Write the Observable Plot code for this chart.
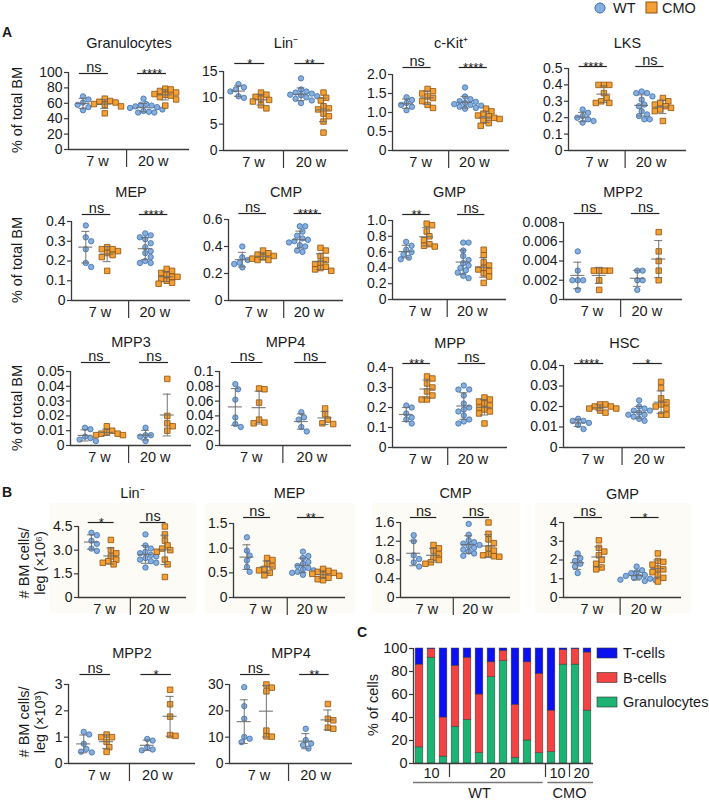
<!DOCTYPE html>
<html><head><meta charset="utf-8">
<script src="https://cdn.jsdelivr.net/npm/d3@7"></script>
<script src="https://cdn.jsdelivr.net/npm/@observablehq/plot@0.6"></script>
<style>
body{margin:0;background:#fff;font-family:"Liberation Sans",Arial,Helvetica,sans-serif;}
#fig{position:relative;width:709px;height:802px;overflow:hidden;background:#fff;}
.lab{position:absolute;font-size:14px;color:#1a1a1a;white-space:nowrap;line-height:1;}
.rot{transform:translate(-50%,-50%) rotate(-90deg);}
.bold{font-weight:bold;}
.pw{position:absolute;}
.pw svg{overflow:visible;background:transparent;}
.bg{position:absolute;background:#fcfbf5;}
</style></head><body><div id="fig"></div>
<script>
// ---------------- DATA ----------------
const groups = ["WT 7 w", "CMO 7 w", "WT 20 w", "CMO 20 w"];
const ageLabels = ["7 w", "20 w"];

// Panel A: % of total BM  (each: [WT 7w, CMO 7w, WT 20w, CMO 20w])
const aGranulocytes = [[69,65,61,58,55,51],[66,63,62,61,59,58,56,47],[66,59,58,57,56,55,54,52,50,49,48,48],[79,78,76,74,72,71,70,68,65,57]];
const aLin = [[12.6,12.0,11.6,11.2,10.3,10.0],[11.0,10.6,10.2,9.8,9.6,9.3,8.6,8.0],[13.7,11.6,11.2,11.0,10.8,10.6,10.5,10.3,10.1,9.8,9.5,9.0],[11.0,10.0,9.5,8.4,8.0,7.8,7.0,6.5,5.5,3.4]];
const aCKit = [[1.40,1.33,1.25,1.20,1.15,1.06],[1.62,1.56,1.50,1.42,1.38,1.30,1.20,1.12],[1.66,1.42,1.35,1.30,1.28,1.25,1.22,1.20,1.18,1.15,1.12,1.10],[1.10,1.03,0.97,0.92,0.90,0.86,0.83,0.78,0.72,0.65]];
const aLKS = [[0.25,0.23,0.21,0.20,0.19,0.18,0.17],[0.40,0.40,0.40,0.35,0.32,0.30,0.29,0.29],[0.36,0.35,0.35,0.33,0.31,0.28,0.27,0.24,0.22,0.21,0.19,0.19],[0.32,0.30,0.29,0.28,0.27,0.26,0.25,0.24,0.18]];
const aMEP = [[0.38,0.32,0.30,0.26,0.19,0.17],[0.27,0.26,0.26,0.25,0.24,0.23,0.22,0.15],[0.34,0.33,0.32,0.31,0.29,0.27,0.25,0.24,0.22,0.20,0.19,0.19],[0.16,0.15,0.14,0.13,0.12,0.12,0.11,0.10,0.09,0.085]];
const aCMP = [[0.40,0.32,0.30,0.28,0.27,0.245],[0.37,0.35,0.34,0.33,0.32,0.31,0.30,0.30],[0.55,0.55,0.51,0.48,0.46,0.45,0.44,0.43,0.41,0.40,0.37,0.36],[0.39,0.37,0.33,0.30,0.28,0.27,0.25,0.24,0.23,0.22]];
const aGMP = [[0.73,0.68,0.63,0.60,0.57,0.53,0.51],[0.96,0.94,0.86,0.80,0.75,0.70,0.68,0.67],[0.72,0.72,0.62,0.55,0.50,0.46,0.43,0.40,0.37,0.34,0.30,0.27],[0.63,0.56,0.47,0.43,0.40,0.38,0.36,0.33,0.29,0.21]];
const aMPP2 = [[0.005,0.003,0.002,0.002,0.002,0.001],[0.003,0.003,0.003,0.003,0.002,0.001],[0.003,0.003,0.002,0.002,0.001],[0.007,0.005,0.004,0.003,0.002]];
const aMPP3 = [[0.012,0.011,0.006,0.005,0.004,0.003],[0.013,0.010,0.009,0.008,0.008,0.007,0.007],[0.012,0.007,0.007,0.006,0.003],[0.045,0.020,0.015,0.013,0.010]];
const aMPP4 = [[0.083,0.076,0.062,0.038,0.029,0.025],[0.077,0.076,0.058,0.035,0.031,0.030],[0.045,0.038,0.035,0.025,0.019],[0.050,0.042,0.035,0.030,0.029]];
const aMPP = [[0.21,0.20,0.17,0.15,0.14,0.12],[0.355,0.345,0.32,0.30,0.28,0.26,0.24,0.24],[0.31,0.29,0.29,0.26,0.22,0.20,0.19,0.18,0.16,0.14,0.13,0.12],[0.25,0.24,0.23,0.22,0.21,0.20,0.19,0.18,0.17,0.12]];
const aHSC = [[0.014,0.013,0.013,0.012,0.011,0.009],[0.021,0.021,0.020,0.020,0.019,0.019,0.018,0.017],[0.023,0.020,0.019,0.018,0.018,0.017,0.016,0.016,0.015,0.014,0.013],[0.032,0.029,0.024,0.022,0.021,0.020,0.019,0.016,0.016]];

// Panel B: # BM cells / leg
const bLin = [[4.1,3.95,3.6,3.4,3.1,2.95],[3.65,3.0,2.8,2.6,2.4,2.3,2.2,2.1],[4.0,3.3,3.1,2.9,2.8,2.7,2.6,2.5,2.4,2.3,2.2,1.9],[4.5,4.0,3.6,3.3,3.1,3.0,2.9,2.4,2.1,1.3]];
const bMEP = [[1.22,0.95,0.85,0.75,0.62,0.52],[0.80,0.76,0.68,0.63,0.58,0.55,0.50,0.45],[0.93,0.84,0.80,0.72,0.68,0.64,0.60,0.57,0.55,0.52,0.50,0.46],[0.58,0.54,0.52,0.50,0.48,0.46,0.44,0.40,0.37,0.35]];
const bCMP = [[1.33,1.20,0.90,0.82,0.75,0.66],[1.12,1.05,1.00,0.92,0.85,0.80,0.75,0.72],[1.57,1.34,1.22,1.18,1.15,1.12,1.10,1.06,1.02,0.98,0.94,0.89],[1.60,1.36,1.24,1.16,1.05,1.00,0.92,0.90,0.88,0.87]];
const bGMP = [[2.35,2.10,1.95,1.80,1.65,1.30],[3.05,2.65,2.45,2.25,2.0,1.8,1.6,1.5],[1.65,1.45,1.35,1.30,1.20,1.15,1.10,1.05,1.00,0.95,0.92,0.88],[2.35,1.95,1.90,1.75,1.55,1.50,1.35,1.20,1.05,0.85]];
const bMPP2 = [[1.2,1.1,0.75,0.55,0.45,0.42],[1.1,1.0,1.0,0.82,0.62,0.44],[0.93,0.87,0.62,0.53,0.50],[2.8,2.25,1.78,1.08,1.05]];
const bMPP4 = [[29.0,21.8,17.0,10.1,9.4,8.1],[30.0,28.8,27.4,12.5,10.3,10.2],[13.2,8.9,7.6,7.0,5.7],[22.6,17.0,16.4,13.6,13.2]];

const titlesA = ["Granulocytes","Lin\u207B","c-Kit\u207A","LKS","MEP","CMP","GMP","MPP2","MPP3","MPP4","MPP","HSC"];
const titlesB = ["Lin\u207B","MEP","CMP","GMP","MPP2","MPP4"];
const sigA = [["ns","****"],["*","**"],["ns","****"],["****","ns"],["ns","****"],["ns","****"],["**","ns"],["ns","ns"],["ns","ns"],["ns","ns"],["***","ns"],["****","*"]];
const sigB = [["*","ns"],["ns","**"],["ns","ns"],["ns","*"],["ns","*"],["ns","**"]];

const ticksA = [[0,20,40,60,80,100],[0,5,10,15],[0,0.5,1,1.5,2],[0,0.1,0.2,0.3,0.4,0.5],[0,0.1,0.2,0.3,0.4],[0,0.2,0.4,0.6],[0,0.2,0.4,0.6,0.8,1],[0,0.002,0.004,0.006,0.008],[0,0.01,0.02,0.03,0.04,0.05],[0,0.02,0.04,0.06,0.08,0.1],[0,0.1,0.2,0.3,0.4],[0,0.01,0.02,0.03,0.04]];
const tickLabelsA = [["0","20","40","60","80","100"],["0","5","10","15"],["0","0.5","1.0","1.5","2.0"],["0","0.1","0.2","0.3","0.4","0.5"],["0","0.1","0.2","0.3","0.4"],["0","0.2","0.4","0.6"],["0","0.2","0.4","0.6","0.8","1.0"],["0","0.002","0.004","0.006","0.008"],["0","0.01","0.02","0.03","0.04","0.05"],["0","0.02","0.04","0.06","0.08","0.1"],["0","0.1","0.2","0.3","0.4"],["0","0.01","0.02","0.03","0.04"]];
const ticksB = [[0,1.5,3,4.5],[0,0.5,1,1.5],[0,0.4,0.8,1.2,1.6],[0,1,2,3,4],[0,1,2,3],[0,10,20,30]];
const tickLabelsB = [["0","1.5","3.0","4.5"],["0","0.5","1.0","1.5"],["0","0.4","0.8","1.2","1.6"],["0","1","2","3","4"],["0","1","2","3"],["0","10","20","30"]];

// Panel C: % of cells (per mouse)
const cGranulocytes = [14, 92, 6, 32, 38, 9, 75, 89, 5, 20, 9, 10, 86, 86, 46];
const cBcells =       [72, 7.5, 34, 53, 54, 51, 13, 9, 46, 68, 69, 36, 12.5, 13.5, 50.5];
const cTcells =       [14, 0.5, 60, 15, 8, 40, 12, 2, 49, 12, 22, 54, 1.5, 0.5, 3.5];
const cAgeLabels = ["10","20","10","20"];
const cAgeCounts = [3, 8, 2, 2];
const cGenotypes = ["WT","CMO"];
const cGenotypeCounts = [11, 4];
const cTypes = ["Granulocytes","B-cells","T-cells"];
const cTicks = [0,20,40,60,80,100];

// ---------------- STYLE / LAYOUT ----------------
const FONT = '"Liberation Sans", Arial, Helvetica, sans-serif';
const AX = "#3a3a3a", EB = "#6b6b6b";
const WT_FILL = "#86afe0", WT_STROKE = "#3d6eaa", CMO_FILL = "#f5a035", CMO_STROKE = "#8c5210";
const C_COLORS = {"Granulocytes":"#1db373","B-cells":"#f24343","T-cells":"#0b10ee"};
const GX = [0.12, 0.30, 0.62, 0.80], DIV = 0.48, XL = [0.24, 0.70], SIGX = [[0.09,0.33],[0.57,0.81]];

const layoutA = [
 {x0:68,w:121,yt:72,yb:149,ty:43,sy:73},
 {x0:223,w:125,yt:71,yb:150,ty:43,sy:63},
 {x0:392,w:117,yt:74,yb:150,ty:43,sy:67},
 {x0:568,w:118,yt:68,yb:150,ty:43,sy:66},
 {x0:71,w:119,yt:221,yb:300,ty:192,sy:214},
 {x0:228,w:115,yt:219,yb:300,ty:192,sy:213},
 {x0:392,w:114,yt:220,yb:299,ty:192,sy:214},
 {x0:563,w:119,yt:222,yb:299,ty:192,sy:213},
 {x0:70,w:121,yt:371,yb:445,ty:342,sy:362},
 {x0:219,w:132,yt:371,yb:445,ty:342,sy:362},
 {x0:392,w:115,yt:367,yb:447,ty:343,sy:363},
 {x0:563,w:122,yt:365,yb:447,ty:343,sy:363}
];
const layoutB = [
 {x0:78,w:108,yt:526,yb:597,ty:493,sy:522},
 {x0:233,w:112,yt:523,yb:597,ty:493,sy:517},
 {x0:400,w:110,yt:522,yb:597,ty:493,sy:517},
 {x0:563,w:118,yt:522,yb:597,ty:494,sy:517},
 {x0:68,w:127,yt:684,yb:763,ty:653,sy:674},
 {x0:229,w:123,yt:684,yb:763,ty:653,sy:674}
];

const fig = document.getElementById("fig");
function addLabel(text, x, y, cls="", extra="") {
  const d = document.createElement("div");
  d.className = "lab " + cls;
  d.style.cssText = `left:${x}px;top:${y}px;` + extra;
  d.textContent = text;
  fig.appendChild(d);
  return d;
}
function place(svg, left, top) {
  const w = document.createElement("div");
  w.className = "pw";
  w.style.left = left + "px"; w.style.top = top + "px";
  w.appendChild(svg);
  fig.appendChild(w);
}

// Panel B backgrounds
layoutB.slice(0,4).forEach(L => {
  const d = document.createElement("div");
  d.className = "bg";
  d.style.cssText = `left:${L.x0-28}px;top:503px;width:${L.w+38}px;height:110px;`;
  fig.appendChild(d);
});

// deterministic horizontal spreading of overlapping points (beeswarm-like)
function spread(vals, W, H, ymax) {
  const D = 5.4, step = 2.7;
  const idx = d3.range(vals.length).sort((a,b) => d3.descending(vals[a], vals[b]));
  const placed = [], off = new Array(vals.length);
  for (const i of idx) {
    const py = H * (1 - vals[i]/ymax);
    for (let k = 0; k < 60; k++) {
      const o = k === 0 ? 0 : (k % 2 ? 1 : -1) * Math.ceil(k/2) * step;
      if (placed.every(q => (q.o-o)**2 + (q.py-py)**2 >= D*D)) { placed.push({o, py}); off[i] = o; break; }
    }
  }
  return off.map(o => o / W);
}

function dotPanel(title, data, sig, ticks, labels, L) {
  const W = L.w, H = L.yb - L.yt;
  const ymax = ticks[ticks.length-1];
  const k = ymax / H;
  const mL = 50, mR = 12, mT = 40, mB = 30;
  const pts = [], stats = [];
  data.forEach((vals, g) => {
    const off = spread(vals, W, H, ymax);
    vals.forEach((v, i) => pts.push({g, v, x: GX[g] + off[i]}));
    const m = d3.mean(vals), s = d3.deviation(vals);
    stats.push({x: GX[g], m, lo: m - s, hi: m + s});
  });
  const hw = 7 / W, cw = 4 / W;
  const caps = stats.flatMap(d => [{x: d.x, y: d.lo}, {x: d.x, y: d.hi}]);
  const sigY = ymax + (L.yt - L.sy) * k;
  const sigs = sig.map((s, j) => ({label: s, x1: SIGX[j][0], x2: SIGX[j][1], xm: (SIGX[j][0]+SIGX[j][1])/2}));
  const labMap = new Map(ticks.map((t, i) => [t, labels[i]]));
  const chart = Plot.plot({
    width: W + mL + mR, height: H + mT + mB,
    marginLeft: mL, marginRight: mR, marginTop: mT, marginBottom: mB,
    x: {domain: [0, 1], axis: null},
    y: {domain: [0, ymax], axis: null},
    style: {background: "transparent", overflow: "visible", fontFamily: FONT, fontSize: "14px", color: "#1a1a1a"},
    marks: [
      Plot.axisY({ticks, tickFormat: d => labMap.get(d), tickSize: 4, tickPadding: 2, fontSize: 14, stroke: AX, strokeWidth: 1.2}),
      Plot.ruleX([0], {y1: 0, y2: ymax, stroke: AX, strokeWidth: 1.3}),
      Plot.ruleY([0], {x1: 0, x2: 1, stroke: AX, strokeWidth: 1.3}),
      Plot.ruleX([DIV], {y1: 0, y2: -18 * k, stroke: AX, strokeWidth: 1.2}),
      Plot.text(ageLabels, {x: XL, frameAnchor: "bottom", lineAnchor: "middle", dy: 12, fontSize: 14.5, fill: "#1a1a1a"}),
      Plot.text([title], {frameAnchor: "top", lineAnchor: "middle", dy: -(L.yt - L.ty), fontSize: 14.5, fill: "#1a1a1a"}),
      Plot.ruleY(sigs, {y: sigY, x1: "x1", x2: "x2", stroke: "#222", strokeWidth: 1.2}),
      Plot.text(sigs.filter(d => d.label === "ns"), {x: "xm", y: sigY, text: "label", lineAnchor: "bottom", dy: -2, fontSize: 14.5, fill: "#1a1a1a"}),
      Plot.text(sigs.filter(d => d.label !== "ns"), {x: "xm", y: sigY, text: "label", lineAnchor: "bottom", dy: 4, fontSize: 13, fill: "#1a1a1a"}),
      Plot.dot(pts.filter(d => d.g % 2 === 0), {x: "x", y: "v", r: 2.7, symbol: "circle", fill: WT_FILL, stroke: WT_STROKE, strokeWidth: 0.8}),
      Plot.dot(pts.filter(d => d.g % 2 === 1), {x: "x", y: "v", r: 3.1, symbol: "square", fill: CMO_FILL, stroke: CMO_STROKE, strokeWidth: 0.8}),
      Plot.ruleX(stats, {x: "x", y1: "lo", y2: "hi", stroke: EB, strokeWidth: 1.1, strokeOpacity: 0.85}),
      Plot.ruleY(stats, {y: "m", x1: d => d.x - hw, x2: d => d.x + hw, stroke: EB, strokeWidth: 1.2, strokeOpacity: 0.85}),
      Plot.ruleY(caps, {y: "y", x1: d => d.x - cw, x2: d => d.x + cw, stroke: EB, strokeWidth: 1.1, strokeOpacity: 0.85})
    ]
  });
  place(chart, L.x0 - mL, L.yt - mT);
}

const dataA = [aGranulocytes, aLin, aCKit, aLKS, aMEP, aCMP, aGMP, aMPP2, aMPP3, aMPP4, aMPP, aHSC];
dataA.forEach((d, i) => dotPanel(titlesA[i], d, sigA[i], ticksA[i], tickLabelsA[i], layoutA[i]));
const dataB = [bLin, bMEP, bCMP, bGMP, bMPP2, bMPP4];
dataB.forEach((d, i) => dotPanel(titlesB[i], d, sigB[i], ticksB[i], tickLabelsB[i], layoutB[i]));

// Panel C stacked bars
(function () {
  const L = {x0: 413, w: 180, yt: 648, yb: 763};
  const W = L.w, H = L.yb - L.yt, n = cGranulocytes.length, k = 100 / H;
  const mL = 45, mR = 10, mT = 10, mB = 40;
  const rects = [];
  for (let i = 0; i < n; i++) {
    let base = 0;
    [cGranulocytes[i], cBcells[i], cTcells[i]].forEach((v, j) => {
      rects.push({x1: i + 0.18, x2: i + 0.82, y1: base, y2: base + v, type: cTypes[j]});
      base += v;
    });
  }
  const ages = []; let s = 0;
  cAgeCounts.forEach((c, j) => { ages.push({label: cAgeLabels[j], a: s, b: s + c}); s += c; });
  const genos = []; s = 0;
  cGenotypeCounts.forEach((c, j) => { genos.push({label: cGenotypes[j], a: s, b: s + c, first: j === 0, last: j === cGenotypeCounts.length - 1}); s += c; });
  const chart = Plot.plot({
    width: W + mL + mR, height: H + mT + mB,
    marginLeft: mL, marginRight: mR, marginTop: mT, marginBottom: mB,
    x: {domain: [0, n], axis: null},
    y: {domain: [0, 100], axis: null},
    style: {background: "transparent", overflow: "visible", fontFamily: FONT, fontSize: "14px", color: "#1a1a1a"},
    marks: [
      Plot.rect(rects, {x1: "x1", x2: "x2", y1: "y1", y2: "y2", fill: d => C_COLORS[d.type], stroke: "#3a3a3a", strokeWidth: 0.5}),
      Plot.axisY({ticks: cTicks, tickSize: 4, tickPadding: 2, fontSize: 14.5, stroke: AX, strokeWidth: 1.2}),
      Plot.ruleX([0], {y1: 0, y2: 100, stroke: AX, strokeWidth: 1.3}),
      Plot.ruleY([0], {x1: 0, x2: n, stroke: AX, strokeWidth: 1.3}),
      Plot.ruleX(ages.slice(1), {x: "a", y1: 0, y2: -14 * k, stroke: AX, strokeWidth: 1.2}),
      Plot.text(ages, {x: d => (d.a + d.b) / 2, text: "label", frameAnchor: "bottom", lineAnchor: "middle", dy: 10, fontSize: 14.5, fill: "#1a1a1a"}),
      Plot.ruleY(genos, {y: 0, dy: 19, x1: d => d.a + (d.first ? 0 : 0.2), x2: d => d.b - (d.last ? 0 : 0.2), stroke: "#777", strokeWidth: 1.3}),
      Plot.text(genos, {x: d => (d.a + d.b) / 2, text: "label", frameAnchor: "bottom", lineAnchor: "middle", dy: 30, fontSize: 14.5, fill: "#1a1a1a"})
    ]
  });
  place(chart, L.x0 - mL, L.yt - mT);
})();

// Panel letters, axis titles, legends
addLabel("A", 2, 25, "bold", "font-size:14px;");
addLabel("B", 2, 485, "bold", "font-size:14px;");
addLabel("C", 357, 625, "bold", "font-size:14px;");
[110, 260, 408].forEach(y => addLabel("% of total BM", 17, y, "rot", "font-size:14.5px;"));
[[563, "leg (\u00D710\u2076)"], [722, "leg (\u00D710\u00B3)"]].forEach(([y, t]) => {
  addLabel("# BM cells/", 24, y, "rot", "font-size:14.5px;");
  addLabel(t, 40, y, "rot", "font-size:14.5px;");
});
addLabel("% of cells", 373, 705, "rot", "font-size:14.5px;");

// Top legend (WT / CMO)
(function () {
  const d = document.createElement("div");
  d.style.cssText = "position:absolute;left:593px;top:0px;width:116px;height:18px;";
  d.innerHTML = `<svg width="116" height="18" style="overflow:visible">
    <circle cx="7" cy="8" r="5" fill="${WT_FILL}" stroke="${WT_STROKE}" stroke-width="1"/>
    <text x="20" y="13" font-size="14.5" font-family='${FONT}' fill="#1a1a1a">WT</text>
    <rect x="53" y="2" width="11" height="11" fill="${CMO_FILL}" stroke="${CMO_STROKE}" stroke-width="1"/>
    <text x="69" y="13" font-size="14.5" font-family='${FONT}' fill="#1a1a1a">CMO</text></svg>`;
  fig.appendChild(d);
})();

// Panel C legend
(function () {
  const items = [...cTypes].reverse();
  const d = document.createElement("div");
  d.style.cssText = "position:absolute;left:596px;top:644px;width:113px;height:70px;";
  d.innerHTML = `<svg width="113" height="70" style="overflow:visible">` +
    items.map((t, i) => `<rect x="1" y="${4 + i*24.5}" width="20" height="10" fill="${C_COLORS[t]}" stroke="#333" stroke-width="0.6"/>
      <text x="27" y="${14 + i*24.5}" font-size="14.5" font-family='${FONT}' fill="#1a1a1a">${t}</text>`).join("") + `</svg>`;
  fig.appendChild(d);
})();
</script></body></html>
